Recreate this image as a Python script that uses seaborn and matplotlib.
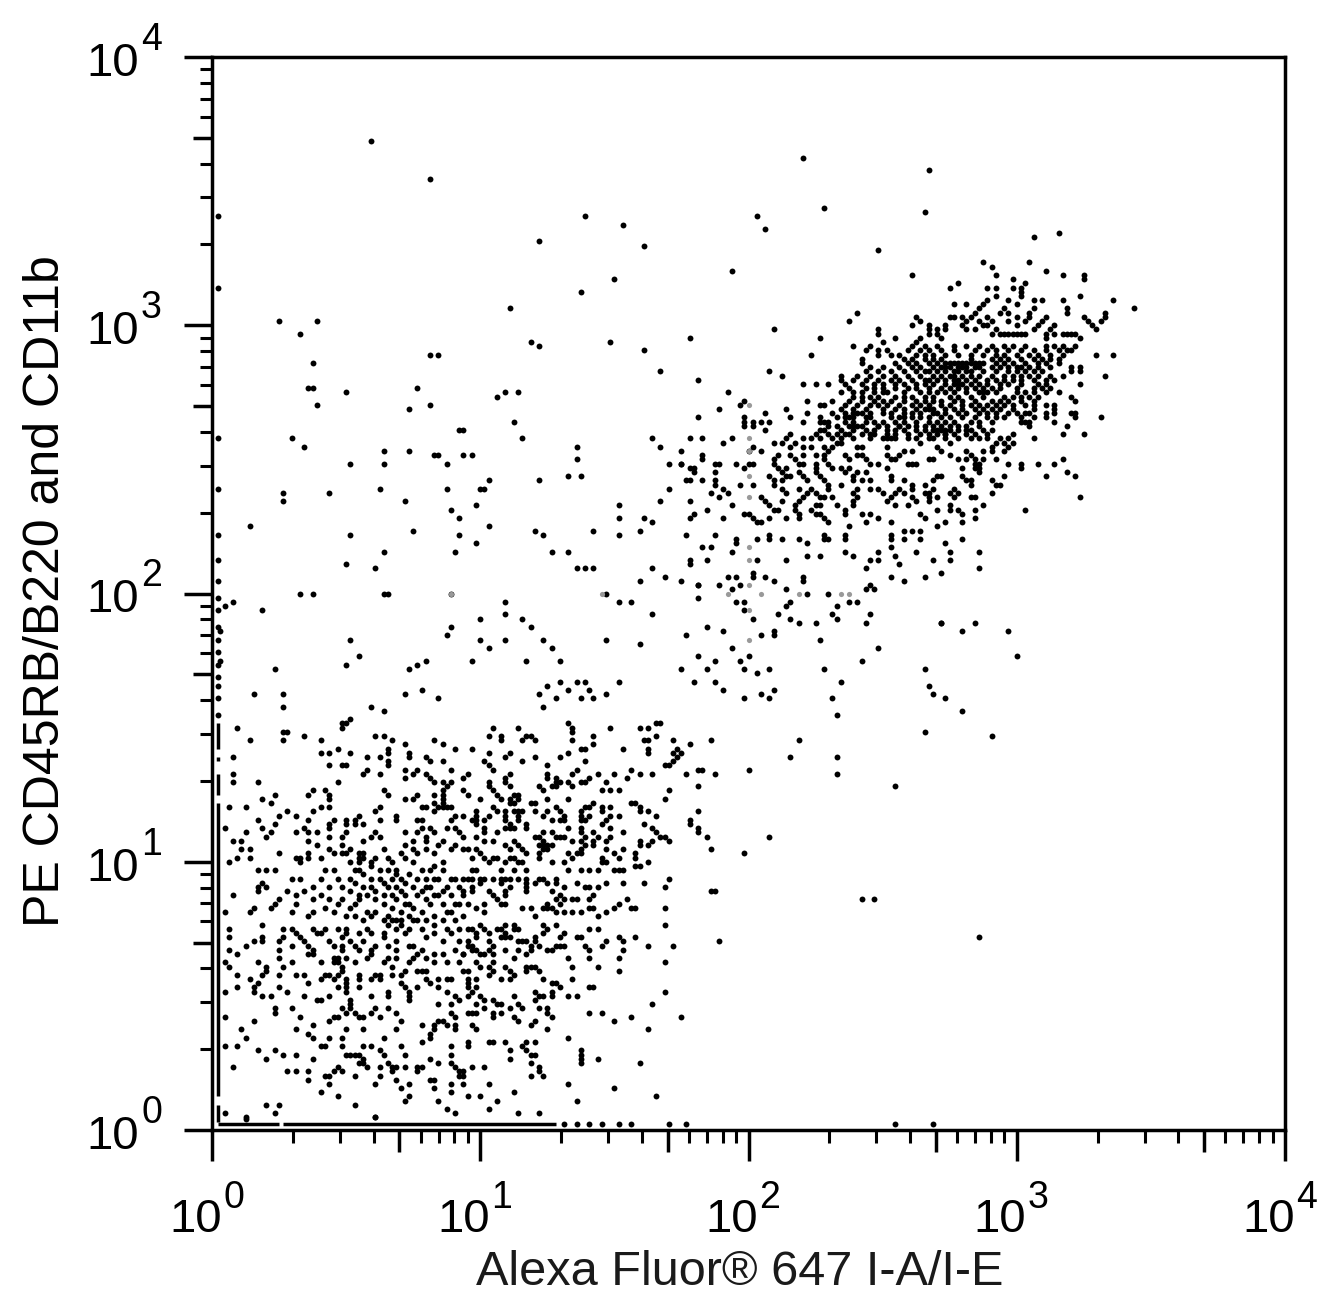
import numpy as np
import pandas as pd
import matplotlib
matplotlib.use("Agg")
import matplotlib.pyplot as plt
import seaborn as sns

# Events, as (x channel, y channel); 64 channels per decade.
low_a = [(6,96),(9,93),(17,95),(18,95),(17,93),(26,93),(26,90),(28,90),(30,91),(33,90),(32,97),(31,96),(39,94),(41,94),(43,93),(42,91),(42,90),(46,92),(47,90),(47,89),(37,89),(40,89),(42,88),(42,87),(28,87),(31,87),(32,87),(37,86),(36,85),(40,85),(53,93),(55,92),(58,91),(51,89),(52,88),(55,88),(57,86),(46,86),(46,84),(49,86),(48,85),(51,85),(52,84),(53,83),(5,89),(5,85),(5,83),(11,83),(30,83),(55,83),(57,83),(56,82),(55,81),(55,80),(55,79),(55,78),(54,77),(55,77),(56,77),(57,77),(53,80),(53,78),(53,76),(24,81),(23,80),(27,81),(28,80),(28,79),(41,81),(42,80),(12,79),(15,80),(14,78),(46,79),(49,80),(48,79),(4,77),(8,77),(26,77),(28,77),(24,76),(40,77),(39,76),(50,77),(51,77),(18,76),(16,75),(20,75),(11,74),(15,73),(23,74),(29,74),(28,73),(28,72),(32,74),(32,73),(35,75),(34,74),(34,73),(36,73),(40,74),(44,75),(44,74),(49,74),(50,74),(58,75),(57,74),(60,75),(3,72),(12,72),(8,71),(14,71),(13,70),(20,71),(22,72),(23,71),(25,71),(32,71),(31,70),(28,70),(39,71),(38,70),(40,70),(36,69),(46,71),(50,72),(49,71),(52,72),(53,71),(51,70),(51,69),(48,69),(56,72),(58,72),(59,71),(60,70),(5,69),(7,69),(7,67),(9,67),(16,66),(23,69),(25,68),(23,66),(23,65),(26,65),(28,67),(29,66),(31,68),(31,66),(32,66),(33,67),(35,66),(36,66),(35,65),(36,65),(41,67),(46,68),(45,66),(46,65),(48,67),(49,66),(51,67),(53,66),(55,69),(54,68),(58,68),(57,67),(60,67),(4,64),(6,65),(9,65),(11,62),(13,62),(15,62),(21,65),(20,65),(21,64),(29,62),(27,62),(33,64),(35,64),(35,62),(34,62),(39,65),(38,64),(38,63),(42,65),(43,64),(42,62),(44,62),(44,61),(45,60),(46,59),(48,64),(50,62),(53,63),(55,64),(52,62),(40,60),(41,59),(42,58),(38,58),(37,56),(39,55),(41,54),(43,53),(45,52),(47,54),(49,56),(51,58),(53,60),(55,62),(57,60),(59,58),(60,56),(58,54),(56,52),(54,56),(52,54),(50,52),(48,50),(46,56),(44,58),(30,60),(28,58),(26,60),(24,58),(21,60),(19,60),(13,58),(12,59),(11,58),(11,57),(16,55),(15,54),(20,56),(20,54),(24,55),(28,55),(30,54),(31,55),(33,53),(34,54),(35,55),(24,52),(23,51),(14,53),(10,53),(5,56),(3,52),(9,52),(19,52),(37,52),(41,50),(43,50),(45,50)]
low_fill = [(36,61),(38,60),(40,62),(43,60),(47,61),(49,60),(51,60),(54,60),(56,58),(58,60),(34,59),(36,58),(39,57),(41,56),(43,56),(45,57),(48,58),(50,57),(52,58),(55,57),(57,56),(33,57),(35,56),(44,55),(46,54),(48,53),(51,55),(53,56),(55,54),(57,52),(59,54),(32,51),(34,51),(36,50),(38,51),(39,52),(42,51),(44,50),(47,51),(49,50),(51,50),(53,51),(55,50),(58,50),(60,51),(26,56),(27,53),(29,52),(22,57),(18,57),(33,60),(31,58),(41,47),(44,48),(47,48),(50,48),(53,49),(56,48),(59,48),(38,47),(35,47),(37,48),(42,49),(45,49)]
low_b = [(12,49),(4,48),(4,46),(17,48),(19,48),(20,47),(21,46),(24,48),(25,47),(26,47),(27,48),(30,48),(32,48),(32,47),(31,46),(17,46),(16,45),(12,46),(12,45),(10,45),(8,44),(22,45),(23,44),(19,44),(28,45),(29,44),(31,44),(31,43),(33,45),(34,44),(35,43),(36,45),(38,43),(39,44),(4,43),(6,42),(16,43),(16,41),(19,40),(17,39),(23,42),(24,43),(24,42),(29,41),(30,41),(29,40),(30,40),(32,41),(34,40),(26,40),(37,41),(38,42),(42,41),(41,40),(49,42),(48,41),(47,40),(3,40),(4,39),(11,40),(13,39),(12,37),(13,38),(31,39),(31,38),(6,37),(9,36),(16,37),(20,37),(22,37),(26,36),(27,37),(28,37),(29,36),(30,37),(32,36),(32,35),(32,34),(32,33),(35,37),(35,36),(35,34),(38,36),(39,37),(40,37),(40,36),(43,37),(45,37),(45,35),(46,34),(47,33),(47,32),(47,31),(49,38),(50,38),(51,38),(51,36),(52,35),(54,36),(56,36),(57,36),(49,34),(54,34),(56,33),(10,34),(11,35),(10,33),(6,34),(3,33),(16,34),(18,33),(12,32),(14,32),(23,35),(22,32),(28,32),(30,34),(25,31),(26,31),(38,32),(42,33),(42,32),(58,32),(57,30),(54,30),(59,31),(33,31),(33,30),(33,29),(31,29),(32,28),(30,27),(29,27),(28,26),(34,28),(35,27),(36,27),(15,29),(15,28),(19,29),(21,27),(3,27),(10,26),(38,28),(39,29),(40,27),(42,29),(44,28),(57,28),(58,27),(7,24),(8,22),(20,24),(24,25),(23,23),(24,22),(32,24),(36,24),(28,22),(31,22),(45,26),(44,24),(41,22),(50,25),(54,26),(53,25),(53,24),(52,23),(52,22),(55,26),(56,25),(58,25),(58,24),(50,21),(3,20),(6,20),(11,19),(15,19),(26,20),(27,20),(31,20),(36,20),(38,20),(40,19),(41,18),(42,16),(43,15),(45,20),(46,18),(57,20),(57,18),(57,16),(17,18),(20,18),(13,17),(24,17),(32,18),(33,18),(34,18),(35,18),(36,17),(35,16),(36,16),(37,15),(52,17),(54,16),(49,15),(50,15),(49,14),(46,15),(40,15),(44,15),(43,14),(5,15),(18,14),(20,14),(23,14),(23,12),(30,15),(29,14),(31,14),(28,13),(27,13),(34,13),(40,13),(58,15),(59,14),(60,13),(59,13),(28,11),(26,9),(30,8),(39,11),(44,12),(45,10),(47,11),(47,8),(46,7),(52,12),(53,12),(53,10),(57,11),(57,9),(54,7),(56,5),(58,4),(13,6),(16,6),(15,4),(3,4),(8,3),(34,6),(39,3),(8,2.6),(39,3),(41,46),(44,45),(46,47),(48,44),(51,46),(53,47),(55,45),(57,47),(59,45),(42,44),(44,43),(47,44),(50,43),(53,42),(55,42),(58,43),(60,42),(51,41),(53,40),(56,40),(59,40),(44,41),(46,38),(43,39)]
mid_low_a = [(67,96),(73,96),(66,94),(69,94),(69,93),(74,93),(75,94),(76,94),(77,93),(85,97),(86,96),(86,95),(86,93),(95,96),(102,96),(104,96),(106,97),(107,97),(91,94),(91,92),(88,91),(89,91),(103,93),(104,93),(106,94),(110,93),(62,91),(66,90),(71,90),(70,89),(98,91),(104,91),(104,90),(111,91),(110,90),(111,89),(110,88),(109,87),(108,87),(112,90),(114,92),(85,90),(83,89),(77,89),(74,88),(89,88),(65,88),(66,87),(67,86),(80,87),(71,85),(70,84),(70,83),(71,82),(80,85),(80,84),(82,84),(82,83),(81,82),(82,82),(83,83),(87,86),(86,85),(85,83),(86,82),(92,85),(90,84),(89,83),(88,83),(96,85),(100,86),(99,84),(102,85),(105,85),(117,86),(120,85),(116,82),(66,83),(66,82),(67,81),(68,80),(69,79),(61,85),(60,84),(78,82),(79,81),(94,83),(93,81),(95,81),(97,81),(109,81),(108,79),(71,79),(72,80),(73,80),(72,78),(71,78),(73,79),(64,79),(61,80),(60,81),(76,78),(77,78),(80,79),(85,79),(91,78),(90,77),(89,77),(88,76),(88,75),(88,74),(89,74),(90,75),(93,77),(93,76),(95,77),(95,75),(94,74),(93,73),(97,75),(100,78),(101,78),(102,77),(102,76),(104,76),(106,75),(116,76),(114,73),(116,71),(118,70),(119,67),(82,77),(83,76),(84,75),(84,74),(83,74),(81,74),(80,76),(79,75),(77,76),(73,76),(74,76),(73,75),(72,76),(73,74),(70,76),(70,75),(70,74),(71,73),(71,72),(72,72),(70,72),(67,77),(68,76),(66,75),(65,74),(63,76),(63,75),(63,74),(62,74),(63,73),(75,73),(75,72),(65,72),(65,71),(68,71),(63,70),(65,69),(67,69),(79,71),(77,70),(78,70),(79,69),(80,68),(81,68),(81,71),(82,70),(83,70),(84,70),(85,72),(88,72),(88,71),(89,70),(88,69),(86,69),(91,71),(92,70),(91,69),(91,68),(95,72),(95,70),(94,69),(98,71),(103,73),(105,72),(106,71),(107,70),(108,70),(109,69),(102,69),(102,68),(105,69),(104,68),(70,68),(71,67),(72,69),(73,68),(74,67),(75,66),(78,68),(79,68),(80,67),(79,67),(78,66),(78,65),(89,68),(88,67),(87,66),(86,65),(85,66),(88,66),(94,67),(98,67),(96,66),(97,65),(93,65),(101,66),(101,65),(104,64),(101,63),(102,63),(61,67),(62,65),(63,67),(64,66),(65,65),(66,64),(67,65),(68,65),(69,62),(70,64),(71,65),(72,65),(73,64),(74,64),(81,64),(84,64),(85,62),(88,62),(90,62),(93,64),(94,64),(92,62),(96,62),(97,62),(98,62),(62,62),(63,62),(64,60),(65,60),(61,60),(60,60),(62,60),(64,59),(62,58),(60,57),(62,57),(67,60),(69,60),(70,60),(71,60),(72,62),(73,60),(75,62),(75,60),(75,59),(69,59),(70,57),(71,58),(70,56),(66,57),(67,56),(68,55),(69,54),(70,54),(75,58),(75,57),(77,59),(78,60),(79,60),(80,59),(81,57),(82,60),(82,59),(87,59),(89,58),(90,58),(92,58),(94,59),(98,59),(103,59),(109,60),(108,58),(120,57),(84,58),(83,56),(82,55),(84,55),(83,54),(86,55),(87,55),(90,55),(91,56),(99,55),(97,54),(96,53),(80,53),(81,53),(82,52),(80,54),(84,52),(79,53),(90,53),(91,53),(100,53),(101,53),(108,53),(86,52),(88,52),(94,52),(92,51),(74,53),(76,53),(77,51),(65,54),(63,53),(65,52),(61,54)]
mid_low_b = [(64,49),(65,48),(66,47),(61,48),(62,48),(63,47),(63,46),(68,48),(69,48),(70,49),(72,49),(72,48),(73,48),(79,49),(80,48),(79,47),(82,49),(90,48),(92,48),(108,49),(70,47),(69,46),(70,46),(71,46),(84,47),(83,46),(84,44),(83,44),(82,44),(81,43),(80,43),(87,46),(88,46),(101,46),(77,46),(77,45),(78,44),(74,45),(73,45),(75,45),(73,43),(76,44),(76,43),(75,42),(66,45),(67,44),(66,43),(67,42),(64,42),(65,42),(61,45),(62,44),(61,44),(62,43),(63,43),(60,42),(70,43),(72,41),(85,41),(90,41),(97,41),(89,44),(90,43),(94,45),(93,44),(97,46),(98,45),(98,43),(104,44),(110,44),(63,40),(64,39),(67,40),(66,39),(67,38),(66,37),(70,39),(71,38),(72,37),(71,36),(69,36),(63,36),(75,39),(76,39),(77,39),(78,38),(75,38),(86,39),(92,39),(97,38),(108,40),(61,38),(60,38),(79,36),(86,36),(81,35),(82,35),(83,34),(90,34),(91,34),(108,33),(61,36),(61,35),(61,34),(63,34),(62,33),(61,32),(64,32),(65,31),(72,32),(67,31),(68,30),(69,30),(77,33),(78,32),(79,32),(77,31),(81,33),(81,32),(85,32),(87,32),(105,30),(63,30),(65,29),(71,29),(73,30),(74,29),(78,29),(80,29),(80,28),(81,27),(61,28),(62,28),(63,28),(67,28),(67,27),(69,28),(90,28),(93,28),(100,27),(112,27),(96,26),(72,27),(73,26),(77,26),(76,25),(62,25),(63,24),(80,24),(104,24),(85,22),(61,21),(61,20),(66,21),(67,21),(70,21),(75,21),(77,21),(74,20),(75,19),(76,18),(77,18),(71,19),(71,17),(88,19),(88,18),(88,17),(88,16),(92,17),(102,16),(76,16),(78,15),(78,14),(79,13),(76,13),(62,15),(65,15),(60,14),(60,11),(66,11),(85,11),(96,10),(72,9),(61,8),(64,8),(68,7),(87,7),(106,8),(66,5),(73,4),(78,4)]
upper_mid = [(121,172),(126,173),(116,170),(137,172),(132,171),(127,170),(127,169),(127,168),(129,169),(129,168),(131,169),(133,169),(132,167),(138,170),(141,169),(142,171),(145,169),(146,169),(142,174),(145,173),(146,173),(148,174),(148,171),(149,170),(151,171),(152,170),(154,171),(155,171),(156,170),(149,168),(151,169),(153,168),(154,168),(156,169),(159,168),(143,165),(145,167),(144,166),(149,166),(150,165),(151,166),(149,164),(148,163),(150,164),(114,165),(117,165),(122,164),(124,165),(134,164),(136,164),(137,165),(138,166),(139,164),(138,163),(131,162),(129,163),(128,162),(141,163),(143,163),(146,163),(147,162),(155,166),(157,165),(158,166),(161,165),(162,165),(161,167),(163,167),(154,163),(155,163),(163,169),(164,168),(165,170),(166,168),(167,171),(168,172),(171,172),(173,171),(169,166),(170,167),(171,166),(173,167),(175,167),(169,164),(171,165),(176,164),(175,166),(161,163),(173,163),(174,162),(176,161),(167,162),(117,161),(117,160),(112,159),(114,158),(115,157),(120,159),(121,159),(120,157),(125,159),(127,158),(129,159),(128,159),(135,161),(134,160),(134,159),(135,158),(136,157),(138,161),(139,160),(141,159),(140,159),(141,161),(144,161),(146,161),(146,160),(147,159),(148,158),(151,161),(152,160),(150,158),(152,158),(151,157),(154,161),(155,161),(156,160),(157,159),(159,159),(161,158),(161,161),(162,160),(163,160),(164,161),(165,162),(167,159),(166,159),(168,159),(171,160),(172,160),(178,160),(180,160),(181,161),(180,162),(179,158),(183,159),(183,158),(183,157),(144,159),(144,158),(144,157),(145,156),(146,155),(147,154),(147,153),(140,157),(141,156),(142,155),(137,158),(137,156),(136,155),(133,156),(134,155),(134,154),(136,153),(137,152),(138,156),(113,155),(117,155),(120,155),(126,154),(129,154),(153,156),(154,157),(156,157),(153,155),(155,155),(157,155),(150,154),(162,156),(162,155),(165,155),(172,155),(170,154),(173,156),(174,156),(179,156),(180,155),(181,155),(181,154),(140,153),(143,153),(142,152),(141,151),(140,150),(139,149),(139,148),(154,153),(153,152),(154,151),(153,150),(153,149),(157,153),(159,153),(160,152),(164,153),(163,152),(165,152),(162,151),(161,150),(167,154),(167,153),(170,152),(171,152),(171,151),(172,153),(171,150),(167,151),(168,150),(177,153),(176,152),(178,152),(177,151),(119,152),(121,151),(123,152),(124,149),(131,151),(132,150),(133,149),(134,148),(135,148),(136,150),(144,152),(145,151),(146,151),(144,149),(145,149),(143,148),(144,147),(145,147),(146,146),(147,145),(148,151),(149,149),(151,148),(151,147),(173,151),(182,151),(163,149),(166,149),(169,147),(170,146),(173,148),(176,149),(176,148),(178,148),(179,147),(182,148),(115,147),(114,146),(122,146),(127,147),(128,147),(129,146),(130,145),(131,145),(133,146),(137,146),(140,147),(140,146),(155,147),(157,147),(156,145),(159,146),(162,145),(152,144),(165,143),(167,143),(169,143),(173,144),(175,145),(179,145),(182,146),(113,142),(120,142),(125,141),(125,140),(130,141),(133,142),(133,141),(136,141),(140,141),(142,140),(146,142),(146,141),(147,141),(151,142),(151,141),(162,142),(162,141),(165,141),(169,141),(179,141),(175,140),(162,139),(117,139),(119,139),(124,138),(142,137),(145,137),(151,138),(153,137),(159,138),(163,137),(168,138),(176,138),(183,138),(114,135),(130,136),(137,136),(157,136),(159,136),(164,135),(172,136),(176,136),(156,134),(183,134),(123,132),(129,133),(129,132),(132,132),(134,131),(141,132),(141,131),(162,132),(165,131),(170,132),(174,133),(112,131),(116,130),(126,130),(137,129),(157,130),(158,129),(116,127),(125,126),(127,126),(137,125),(149,125),(154,126),(135,123),(129,122),(138,122),(148,123),(157,123),(144,121),(156,121),(174,121),(182,121),(118,120),(122,119),(134,119),(113,118)]
cluster_edge = [(159,210),(167,204),(196,213),(202,214),(184,207),(186,206),(187,204),(195,207),(199,205),(203,204),(208,203),(208,204),(178,202),(176,201),(185,201),(187,201),(191,203),(191,201),(194,202),(193,201),(193,200),(193,199),(207,199),(203,198),(215,198),(220,196),(187,199),(185,198),(184,197),(183,196),(182,195),(177,197),(180,197),(190,198),(192,197),(189,196),(188,195),(190,195),(196,198),(196,196),(195,195),(198,198),(204,196),(204,195),(199,194),(213,195),(213,194),(212,193),(208,194),(209,193),(210,192),(211,191),(154,195),(152,193),(168,194),(169,193),(167,192),(177,194),(176,194),(175,192),(175,191),(179,194),(181,194),(180,193),(179,192),(180,191),(183,193),(182,191),(184,192),(185,194),(186,193),(185,192),(190,193),(192,194),(195,194),(194,193),(192,192),(198,193),(197,192),(201,192),(200,191),(159,191),(159,190),(163,189),(171,192),(171,191),(171,190),(173,191),(173,190),(174,189),(188,190),(189,190),(190,190),(191,190),(192,190),(193,190),(194,190),(187,191),(186,190),(203,190),(204,190),(205,190),(206,190),(207,189),(196,191),(199,190),(199,189),(201,190),(169,189),(168,188),(160,188),(153,187),(157,187),(156,186),(159,186),(159,185),(161,186),(162,185),(155,184),(155,183),(143,185),(211,185),(215,185),(213,180),(212,170),(208,166),(203,166),(196,165),(187,164),(189,164),(191,164),(186,163),(190,163),(186,162),(189,162),(184,162),(184,160),(187,160),(190,159),(193,159),(193,158),(197,159),(201,159),(203,160),(182,160),(182,159),(182,158),(199,156),(204,157),(206,156),(189,156),(186,155),(187,154),(188,154),(186,152),(181,151),(207,151),(194,148),(184,149)]
# Dense core, one list of x channels per y channel.
row_187 = [167,170,173,177,180,183,186,189,191,194,199,201,203,206]
row_186 = [166,169,171,174,177,182,185,187,190,193,196,199,202,204,205]
row_185 = [164,168,170,172,175,178,181,184,187,189,192,195,197,200,203]
row_184 = [165,167,170,172,174,181,186,188,190,193,196,198,200,202]
row_183 = [163,166,168,171,173,175,176,177,178,179,180,181,182,183,184,187,189,191,194,197,199,202]
row_182 = [157,160,164,167,169,172,174,175,176,178,179,180,182,183,186,188,190,192,193,195,197,200,205,207]
row_181 = [156,159,162,165,168,170,171,173,175,177,178,180,181,184,187,190,192,194,196,198,205,207]
row_180 = [150,154,157,160,163,166,169,172,174,176,177,179,181,183,186,189,191,193,195,197,200,203]
row_179 = [150,153,156,159,162,164,167,170,171,173,175,177,178,180,182,185,187,189,191,193,196,199,201]
row_178 = [141,144,147,151,155,158,160,163,165,168,170,172,175,177,178,179,181,183,185,188,190,193,197,199,207]
row_177 = [152,156,158,160,163,166,168,171,174,176,178,180,182,184,186,188,192,196,198,200]
row_176 = [150,153,155,158,160,161,165,169,171,173,175,177,180,183,184,185,187,192,194,196,199,202]
row_175 = [153,155,157,159,163,165,167,170,172,176,178,181,184,189,191,193,195,197,205]
row_174 = [152,155,158,160,162,165,168,170,172,174,177,179,182,186,188,190,193,196,206]
row_173 = [151,154,157,159,161,164,167,169,171,174,176,179,181,183,185,187,189,191,194,196,199,201]
row_172 = [150,153,156,160,163,165,170,172,175,177,179,182,184,186,188,191,196,201]
row_171 = [153,157,160,162,165,169,172,175,178,180,183,185,187,190,192,194,195,199,201,205,206]
row_170 = [145,151,153,157,162,164,167,169,171,174,176,179,182,185,187,189,193,196,199,206]
row_169 = [147,153,158,160,165,168,171,173,175,177,181,183,186,193,194,195,201]
row_168 = [147,152,155,159,161,164,168,170,172,174,176,178,180,183,195,204]
row_167 = [146,150,153,156,158,165,168,172,174,176,178,180,181,184,186]
row_166 = [147,152,157,161,163,166,173,175,177,180,182,185,191]
row_165 = [141,145,148,153,160,163,166,168,172,175,178,181,183,185,188,190]
sparse_top = [(38,236),(52,227),(141,232),(171,229),(170,219),(146,220),(89,218),(98,216),(130,218),(132,215),(103,211),(78,212),(124,205),(96,203),(88,200),(71,196),(16,193),(25,193),(21,190),(134,191),(145,189),(114,189),(95,188),(76,188),(78,187),(52,185),(54,185),(24,183),(133,181),(136,180),(23,177),(24,177),(25,173),(32,176),(49,177),(52,173),(47,172),(68,175),(73,176),(70,176),(107,181),(103,186),(116,179),(123,176),(127,174),(19,165),(22,163),(59,167),(60,167),(72,169),(74,165),(62,161),(60,161),(54,161),(53,161),(56,159),(33,159),(41,162),(41,159),(47,162),(87,163),(87,160),(85,156),(105,165),(107,163),(112,162),(17,152),(28,152),(40,153),(46,150),(56,153),(57,148),(64,153),(66,155),(63,149),(65,153),(78,155),(88,156),(97,149),(97,146),(97,142),(102,143),(103,146),(105,145),(109,159),(112,159),(115,158),(114,155),(120,154),(122,153),(109,153),(107,150),(114,150),(118,148),(9,144),(17,150),(33,142),(32,135),(48,143),(41,138),(39,134),(59,146),(59,142),(58,138),(66,144),(63,140),(77,143),(79,142),(81,138),(85,138),(87,134),(89,134),(91,134),(94,128),(97,126),(100,126),(102,131),(91,143),(105,134),(108,132),(114,136),(116,130),(121,130),(118,136),(124,129),(125,132),(127,124)]
sparse_mid = [(5,126),(3,125),(12,124),(21,128),(24,128),(41,128),(42,128),(57,128),(70,126),(70,123),(2,119),(2,112),(15,110),(33,117),(32,111),(35,113),(49,111),(51,112),(47,110),(56,118),(57,120),(64,122),(74,122),(66,115),(76,120),(79,117),(81,115),(94,117),(105,123),(102,116),(64,117),(70,117),(62,112),(75,112),(83,112),(87,107),(80,106),(89,107),(90,105),(94,104),(97,107),(78,104),(79,101),(83,107),(85,105),(88,103),(91,103),(82,103),(54,103),(46,104),(41,100),(38,101),(33,98),(31,97),(50,105),(17,104),(10,104),(17,101),(22,94),(116,113),(120,112),(124,115),(126,112),(131,118),(128,113),(134,118),(112,110),(115,107),(118,110),(120,107),(127,110),(130,109),(133,110),(134,105),(133,103),(122,105),(127,103),(131,104),(146,110),(155,112),(150,107),(148,103),(149,99),(140,121),(145,117),(149,122),(152,126),(156,129),(138,126),(142,128),(147,128),(159,115),(179,119),(174,121),(190,119),(192,113),(170,110),(171,106),(172,104),(175,103),(179,100),(170,95),(186,94),(140,93),(138,89),(149,89),(149,85),(163,82),(133,70),(127,66),(128,86),(119,93),(116,86),(155,55),(158,55),(183,46),(121,45),(119,57),(116,72),(114,74),(113,85)]
axis_dots = [(1.5,99),(1.5,103),(1.5,106),(1.5,108),(1.5,111),(1.5,114),(1.5,117),(1.5,120),(1.5,124),(1.5,127),(1.5,131),(1.5,136),(1.5,142),(1.5,153),(1.5,165),(1.5,201),(1.5,218),(84,1.5),(87,1.5),(90,1.5),(93,1.5),(97,1.5),(100,1.5),(109,1.5),(113,1.5),(163,1.5),(172,1.5)]
grey_events = [(128,173),(128,165),(128,162),(128,156),(128,151),(128,139),(128,136),(128,130),(123,128),(131,128),(140,128),(150,128),(152,128),(128,124),(128,117),(57,128),(93,128)]
# Runs of events piled on the low edge of each axis (first and last channel).
left_edge_runs = [(2,6),(8,78),(80,85),(88,89),(91,97)]
bottom_edge_runs = [(1.5,16),(17,82)]

x_decades = [1, 10, 100, 1000, 10000]
y_decades = [1, 10, 100, 1000, 10000]
exponents = ["0", "1", "2", "3", "4"]
x_title = "Alexa Fluor® 647 I-A/I-E"
y_title = "PE CD45RB/B220 and CD11b"

rows = [(187,row_187),(186,row_186),(185,row_185),(184,row_184),(183,row_183),(182,row_182),(181,row_181),(180,row_180),(179,row_179),(178,row_178),(177,row_177),(176,row_176),(175,row_175),(174,row_174),(173,row_173),(172,row_172),(171,row_171),(170,row_170),(169,row_169),(168,row_168),(167,row_167),(166,row_166),(165,row_165)]
events = low_a + low_fill + low_b + mid_low_a + mid_low_b + upper_mid + cluster_edge + sparse_top + sparse_mid + axis_dots
for yc, xs in rows:
    events = events + [(xc, yc) for xc in xs]

PER_DECADE = 64.0
def to_value(ch):
    return 10 ** (np.asarray(ch, dtype=float) / PER_DECADE)

df = pd.DataFrame(events, columns=["xc", "yc"])
df["x"] = to_value(df.xc)
df["y"] = to_value(df.yc)
grey = pd.DataFrame(grey_events, columns=["xc", "yc"])
grey["x"] = to_value(grey.xc)
grey["y"] = to_value(grey.yc)

sns.set_theme(style="white")
plt.rcParams["font.family"] = ["Liberation Sans", "DejaVu Sans"]
W, H = 1333, 1308
fig = plt.figure(figsize=(W / 100, H / 100), dpi=100)
ax = fig.add_axes([212 / W, 1 - 1130 / H, (1285 - 212) / W, (1130 - 57) / H])
ax.set_xscale("log")
ax.set_yscale("log")

sns.scatterplot(data=df, x="x", y="y", ax=ax, color="black", s=18, linewidth=0, marker="o", legend=False)
sns.scatterplot(data=grey, x="x", y="y", ax=ax, color="#999999", s=14, linewidth=0, marker="o", legend=False)
for a, b in left_edge_runs:
    ax.vlines(to_value(1.5), to_value(a), to_value(b), color="black", lw=2.5)
for a, b in bottom_edge_runs:
    ax.hlines(to_value(1.5), to_value(a), to_value(b), color="black", lw=2.5)

ax.set_xlim(1, 10000)
ax.set_ylim(1, 10000)
ax.set_xlabel("")
ax.set_ylabel("")
for s in ax.spines.values():
    s.set_linewidth(2.5)
    s.set_color("black")

minor_subs = [2, 3, 4, 6, 7, 8, 9]
minor_ticks = [d * m for d in x_decades[:-1] for m in minor_subs]
five_ticks = [d * 5 for d in x_decades[:-1]]
for axis in (ax.xaxis, ax.yaxis):
    axis.set_major_locator(matplotlib.ticker.FixedLocator(x_decades))
    axis.set_minor_locator(matplotlib.ticker.FixedLocator(minor_ticks))
    axis.set_major_formatter(matplotlib.ticker.NullFormatter())
    axis.set_minor_formatter(matplotlib.ticker.NullFormatter())
ax.tick_params(axis="x", which="major", direction="out", length=22, width=2.5, color="black", bottom=True)
ax.tick_params(axis="y", which="major", direction="out", length=20, width=2.5, color="black", left=True)
ax.tick_params(axis="both", which="minor", direction="out", length=9, width=2.2, color="black", bottom=True, left=True)
sx = ax.secondary_xaxis("bottom")
sx.set_xticks(five_ticks)
sx.set_xticklabels([])
sx.tick_params(length=16, width=2.5, color="black")
sx.spines["bottom"].set_visible(False)
sy = ax.secondary_yaxis("left")
sy.set_yticks(five_ticks)
sy.set_yticklabels([])
sy.tick_params(length=14, width=2.5, color="black")
sy.spines["left"].set_visible(False)

BASE = 34
SUP = 27
for d, e in zip(x_decades, exponents):
    ax.annotate("10", xy=(d, 0), xycoords=("data", "axes fraction"), xytext=(-43, -102), textcoords="offset pixels",
                fontsize=BASE, ha="left", va="baseline", color="black")
    ax.annotate(e, xy=(d, 0), xycoords=("data", "axes fraction"), xytext=(11, -78), textcoords="offset pixels",
                fontsize=SUP, ha="left", va="baseline", color="black")
for d, e in zip(y_decades, exponents):
    ax.annotate("10", xy=(0, d), xycoords=("axes fraction", "data"), xytext=(-126, -19), textcoords="offset pixels",
                fontsize=BASE, ha="left", va="baseline", color="black")
    ax.annotate(e, xy=(0, d), xycoords=("axes fraction", "data"), xytext=(-71, 7), textcoords="offset pixels",
                fontsize=SUP, ha="left", va="baseline", color="black")

fig.text(740 / W, 1 - 1285 / H, x_title, fontsize=35, ha="center", va="baseline", color="#1a1a1a")
fig.text(46 / W, 1 - 591 / H, y_title, fontsize=36, rotation=90, ha="center", va="center", rotation_mode="anchor", color="black")

fig.savefig("out.png", dpi=100, facecolor="white")
